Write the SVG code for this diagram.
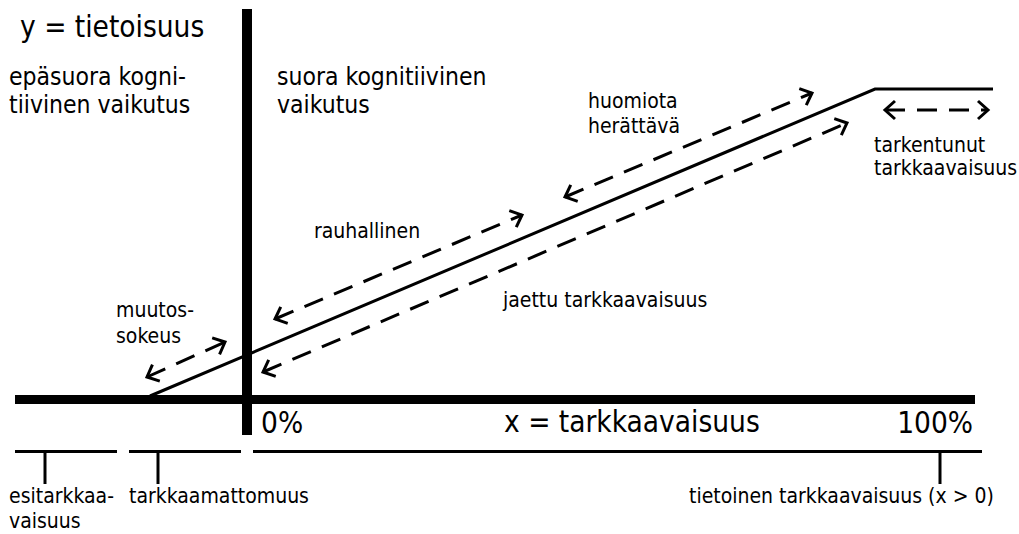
<svg xmlns="http://www.w3.org/2000/svg" width="1019" height="534" viewBox="0 0 1019 534">
<style>
text{font-family:"DejaVu Sans Condensed","DejaVu Sans",sans-serif;fill:#000}
.big{font-size:29.5px}
.mid{font-size:24.5px}
.sm{font-size:21px}
.axis{stroke:#000;fill:none}
.thin{stroke:#000;stroke-width:3;fill:none}
.dash{stroke:#000;stroke-width:3;fill:none;stroke-dasharray:20 12;marker-start:url(#ah);marker-end:url(#ah)}
</style>
<defs>
<marker id="ah" viewBox="-14 -11 17 22" refX="0" refY="0" markerWidth="17" markerHeight="22" markerUnits="userSpaceOnUse" orient="auto-start-reverse">
<path d="M-10,-9 L0,0 L-10,9" fill="none" stroke="#000" stroke-width="3"/>
</marker>
</defs>
<rect width="1019" height="534" fill="#fff"/>
<g id="axes">
<line class="axis" x1="15" y1="399.5" x2="975" y2="399.5" stroke-width="9"/>
<line class="axis" x1="247" y1="9" x2="247" y2="435" stroke-width="10"/>
</g>
<g id="curve">
<polyline class="thin" points="150,396 875,89 993,89"/>
</g>
<g id="scale">
<line class="thin" x1="15" y1="451.5" x2="117" y2="451.5"/>
<line class="thin" x1="129" y1="451.5" x2="241" y2="451.5"/>
<line class="thin" x1="253" y1="451.5" x2="982" y2="451.5"/>
<line class="thin" x1="45" y1="451.5" x2="45" y2="484"/>
<line class="thin" x1="158" y1="451.5" x2="158" y2="484"/>
<line class="thin" x1="940" y1="451.5" x2="940" y2="484"/>
</g>
<g id="connectors">
<line class="dash" x1="147" y1="377" x2="225" y2="342"/>
<line class="dash" x1="275" y1="319" x2="522" y2="215"/>
<line class="dash" x1="565" y1="197" x2="812" y2="93"/>
<line class="dash" x1="263" y1="372" x2="847" y2="123"/>
<line class="dash" x1="885" y1="110" x2="988" y2="110"/>
</g>
<g id="labels">
<text class="big" x="20" y="37">y = tietoisuus</text>
<text class="mid" x="9" y="85">epäsuora kogni-</text>
<text class="mid" x="9" y="113">tiivinen vaikutus</text>
<text class="mid" x="277" y="85">suora kognitiivinen</text>
<text class="mid" x="277" y="113">vaikutus</text>
<text class="sm" x="588" y="108">huomiota</text>
<text class="sm" x="588" y="133">herättävä</text>
<text class="sm" x="874" y="152">tarkentunut</text>
<text class="sm" x="874" y="175">tarkkaavaisuus</text>
<text class="sm" x="314" y="238">rauhallinen</text>
<text class="sm" x="116" y="317">muutos-</text>
<text class="sm" x="116" y="343">sokeus</text>
<text class="sm" x="503" y="307">jaettu tarkkaavaisuus</text>
<text class="big" x="261" y="433">0%</text>
<text class="big" x="504" y="432">x = tarkkaavaisuus</text>
<text class="big" x="973" y="433" text-anchor="end">100%</text>
<text class="sm" x="9" y="503">esitarkkaa-</text>
<text class="sm" x="9" y="528">vaisuus</text>
<text class="sm" x="129" y="503">tarkkaamattomuus</text>
<text class="sm" x="689" y="503">tietoinen tarkkaavaisuus (x &gt; 0)</text>
</g>
</svg>
